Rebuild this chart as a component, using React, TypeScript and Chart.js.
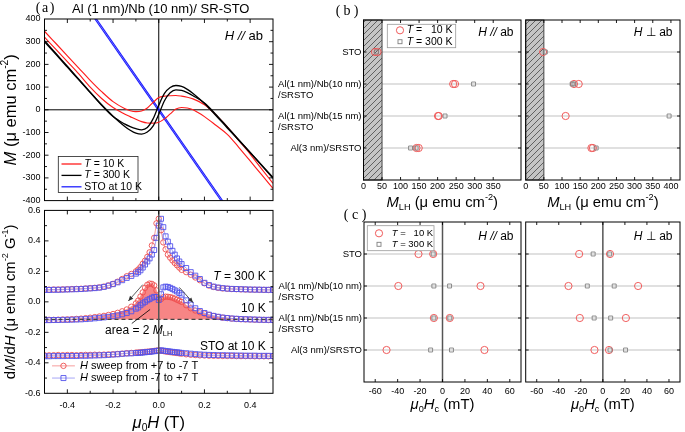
import React, { useEffect, useRef } from 'react';
import { Chart, registerables } from 'chart.js';

Chart.register(...registerables);

const SANS = '"Liberation Sans", Arial, Helvetica, sans-serif';
const SERIF = '"Liberation Serif", "Times New Roman", serif';

// ================= (a) upper : M vs mu0H =================
const hLoop = [-0.5, -0.45, -0.4, -0.35, -0.3, -0.25, -0.2, -0.15, -0.125, -0.1, -0.075, -0.05, -0.025, 0, 0.025, 0.05, 0.075, 0.1, 0.125, 0.15, 0.2, 0.25, 0.3, 0.35, 0.4, 0.45, 0.5];
const m10KDown = [346, 292, 238, 184, 130, 80, 36, 6, -4, -8, -5, 8, 32, 54, 60, 62, 63, 60, 55, 48, 22, -22, -75, -135, -195, -260, -324];
const m10KUp = [320, 266, 212, 158, 100, 50, 10, -18, -30, -42, -52, -58, -59, -55, -40, -18, 3, 10, 8, 0, -30, -68, -108, -165, -225, -286, -346];
const m300KDown = [305, 248, 192, 135, 78, 20, -30, -62, -74, -83, -88, -78, -40, 20, 72, 98, 107, 103, 90, 72, 28, -25, -80, -134, -188, -243, -298];
const m300KUp = [300, 244, 188, 132, 76, 22, -28, -72, -90, -103, -107, -98, -72, -20, 40, 75, 88, 86, 76, 62, 30, -20, -76, -132, -188, -245, -302];
const hSTO = [-0.3, 0.3];
const mSTOa = [440, -430];
const mSTOb = [430, -440];
const mTicks = [-400, -300, -200, -100, 0, 100, 200, 300, 400];
const mMinor = [-350, -250, -150, -50, 50, 150, 250, 350];
const hTicks = [-0.4, -0.2, 0, 0.2, 0.4];
const hMinor = [-0.3, -0.1, 0.1, 0.3];

// ================= (a) lower : dM/dH =================
const hSweep = [-0.5, -0.48, -0.46, -0.44, -0.42, -0.4, -0.38, -0.36, -0.34, -0.32, -0.3, -0.28, -0.26, -0.24, -0.22, -0.2, -0.18, -0.16, -0.14, -0.12, -0.1,
  -0.09, -0.08, -0.07, -0.06, -0.05, -0.04, -0.03, -0.02, -0.01, 0, 0.01, 0.02, 0.03, 0.04, 0.05, 0.06, 0.07, 0.08, 0.09,
  0.1, 0.12, 0.14, 0.16, 0.18, 0.2, 0.22, 0.24, 0.26, 0.28, 0.3, 0.32, 0.34, 0.36, 0.38, 0.4, 0.42, 0.44, 0.46, 0.48, 0.5];
const d300Up = [0.078, 0.078, 0.079, 0.079, 0.080, 0.081, 0.082, 0.083, 0.084, 0.086, 0.088, 0.090, 0.093, 0.098, 0.106, 0.116, 0.128, 0.142, 0.157, 0.170, 0.185,
  0.195, 0.207, 0.225, 0.245, 0.265, 0.285, 0.310, 0.340, 0.420, 0.500, 0.545, 0.490, 0.430, 0.395, 0.365, 0.335, 0.310, 0.285, 0.265,
  0.248, 0.222, 0.195, 0.172, 0.150, 0.125, 0.110, 0.100, 0.094, 0.090, 0.087, 0.085, 0.084, 0.083, 0.082, 0.081, 0.080, 0.080, 0.079, 0.079, 0.078];
const d300Down = [0.080, 0.080, 0.081, 0.081, 0.082, 0.083, 0.084, 0.085, 0.086, 0.088, 0.090, 0.092, 0.095, 0.100, 0.108, 0.118, 0.132, 0.150, 0.168, 0.183, 0.200,
  0.212, 0.228, 0.250, 0.270, 0.295, 0.325, 0.370, 0.420, 0.515, 0.545, 0.470, 0.390, 0.345, 0.310, 0.290, 0.272, 0.255, 0.240, 0.225,
  0.210, 0.195, 0.178, 0.160, 0.142, 0.122, 0.107, 0.098, 0.092, 0.088, 0.086, 0.084, 0.083, 0.082, 0.081, 0.080, 0.080, 0.079, 0.079, 0.078, 0.078];
const d10Up = [-0.120, -0.120, -0.119, -0.119, -0.118, -0.118, -0.117, -0.116, -0.115, -0.113, -0.111, -0.108, -0.105, -0.102, -0.098, -0.094, -0.089, -0.082, -0.073, -0.062, -0.045,
  -0.037, -0.022, -0.010, 0.000, 0.010, 0.018, 0.027, 0.033, 0.032, 0.012, 0.050, 0.095, 0.100, 0.098, 0.092, 0.085, 0.076, 0.068, 0.058,
  0.047, 0.010, -0.018, -0.042, -0.060, -0.073, -0.084, -0.092, -0.098, -0.103, -0.106, -0.109, -0.111, -0.113, -0.114, -0.115, -0.116, -0.117, -0.118, -0.118, -0.119];
const d10Down = [-0.119, -0.118, -0.118, -0.117, -0.116, -0.115, -0.114, -0.112, -0.110, -0.107, -0.104, -0.100, -0.096, -0.092, -0.086, -0.080, -0.072, -0.062, -0.050, -0.032, -0.010,
  0.008, 0.035, 0.062, 0.092, 0.112, 0.120, 0.118, 0.108, 0.075, 0.022, 0.018, 0.030, 0.034, 0.033, 0.031, 0.027, 0.021, 0.014, 0.007,
  0.000, -0.022, -0.042, -0.057, -0.068, -0.077, -0.086, -0.093, -0.099, -0.104, -0.107, -0.110, -0.112, -0.114, -0.115, -0.116, -0.117, -0.118, -0.118, -0.119, -0.120];
const dSTODown = [-0.350, -0.351, -0.350, -0.349, -0.350, -0.349, -0.349, -0.350, -0.349, -0.348, -0.348, -0.347, -0.347, -0.346, -0.345, -0.344, -0.342, -0.340, -0.337, -0.335, -0.333,
  -0.332, -0.331, -0.330, -0.328, -0.327, -0.326, -0.324, -0.322, -0.320, -0.318, -0.321, -0.323, -0.326, -0.328, -0.330, -0.332, -0.334, -0.336, -0.338,
  -0.340, -0.344, -0.347, -0.349, -0.351, -0.352, -0.353, -0.354, -0.354, -0.355, -0.355, -0.355, -0.356, -0.356, -0.356, -0.356, -0.357, -0.357, -0.357, -0.357, -0.357];
const dSTOUp = [-0.357, -0.357, -0.356, -0.356, -0.356, -0.355, -0.355, -0.355, -0.354, -0.354, -0.353, -0.352, -0.351, -0.350, -0.348, -0.346, -0.344, -0.341, -0.339, -0.338, -0.336,
  -0.335, -0.334, -0.332, -0.331, -0.329, -0.328, -0.326, -0.324, -0.322, -0.320, -0.318, -0.320, -0.322, -0.324, -0.326, -0.328, -0.330, -0.331, -0.333,
  -0.335, -0.337, -0.340, -0.343, -0.345, -0.347, -0.348, -0.349, -0.350, -0.350, -0.351, -0.351, -0.352, -0.352, -0.353, -0.353, -0.353, -0.354, -0.354, -0.354, -0.355];
const dBaseline = -0.115;
const dTicks = [-0.6, -0.4, -0.2, 0, 0.2, 0.4, 0.6];
const dMinor = [-0.5, -0.3, -0.1, 0.1, 0.3, 0.5];

// ================= (b),(c) : samples =================
const sampleLabels = [['STO'], ['Al(1 nm)/Nb(10 nm)', '/SRSTO'], ['Al(1 nm)/Nb(15 nm)', '/SRSTO'], ['Al(3 nm)/SRSTO']];
const mlhPar10K = [[31, 38], [242, 247], [201, 203], [143, 149]];
const mlhPar300K = [[35], [297], [220], [127, 142]];
const mlhPerp10K = [[48], [133, 146], [110], [181, 185]];
const mlhPerp300K = [[54], [128, 133], [395], [194]];
const hcPar10K = [[-21.4, -8.3], [-39.4, 33.9], [-7.7, 6.5], [-49.9, 37.4]];
const hcPar300K = [[-8.3], [-7.7, 6.3], [-7.7, 6.5], [-10.6, 8.0]];
const hcPerp10K = [[-21.5, 6.5], [-31.2, 32.0], [-20.9, 20.9], [-7.6, 5.6]];
const hcPerp300K = [[-8.8, 6.2], [-14.1, 10.3], [-7.9, 7.1], [6.5, 20.6]];
const mlhTicksPar = [0, 50, 100, 150, 200, 250, 300, 350];
const mlhTicksPerp = [0, 50, 100, 150, 200, 250, 300, 350, 400];
const hcTicks = [-60, -40, -20, 0, 20, 40, 60];
const mlhNoise = 50;

// ================= styles =================
const RED = '#ff1c1c';
const BLACK = '#000';
const BLUE = '#2020ff';
const C_MK = 'rgb(238,78,78)';
const C_LN = 'rgba(244,140,140,0.95)';
const S_MK = 'rgb(84,84,235)';
const S_LN = 'rgba(150,150,245,0.95)';
const FILL = 'rgba(246,112,112,0.85)';
const CAT_RED = 'rgb(240,92,92)';
const CAT_GRAY = '#808080';

type Seg = { t: string; i?: boolean; s?: number };

function rich(ctx: any, segs: Seg[], x: number, y: number, size: number, align = 'left', rot = 0, color = '#000') {
  ctx.save();
  ctx.translate(x, y);
  if (rot) ctx.rotate(rot);
  ctx.fillStyle = color;
  ctx.textBaseline = 'middle';
  ctx.textAlign = 'left';
  const fontOf = (g: Seg) => `${g.i ? 'italic ' : ''}${g.s ? (size * 0.62).toFixed(2) : size}px ${SANS}`;
  const widths = segs.map((g) => { ctx.font = fontOf(g); return ctx.measureText(g.t).width; });
  const total = widths.reduce((p, c) => p + c, 0);
  let cx = align === 'center' ? -total / 2 : align === 'right' ? -total : 0;
  segs.forEach((g, k) => {
    ctx.font = fontOf(g);
    const dy = g.s === 1 ? -size * 0.36 : g.s === -1 ? size * 0.3 : 0;
    ctx.fillText(g.t, cx, dy);
    cx += widths[k];
  });
  ctx.restore();
  return total;
}

function panelLetter(ctx: any, l: string, x: number, y: number, gap: number) {
  ctx.save();
  ctx.fillStyle = '#000';
  ctx.font = `14px ${SERIF}`;
  ctx.textBaseline = 'middle';
  ctx.textAlign = 'center';
  ctx.fillText('(', x, y);
  ctx.fillText(l, x + gap, y);
  ctx.fillText(')', x + 2 * gap, y);
  ctx.restore();
}

function xy(xs: number[], ys: number[]) {
  return xs.map((x, i) => ({ x, y: ys[i] }));
}
function cats(vals: number[][]) {
  return vals.flatMap((arr, i) => arr.map((v) => ({ x: v, y: i + 1 })));
}

function inwardTicks(chart: any, xMaj: number[], xMin: number[], yMaj: number[], yMin: number[], majLen = 4, minLen = 2.5) {
  const { ctx, chartArea: a } = chart;
  const sx = chart.scales.x, sy = chart.scales.y;
  ctx.save();
  ctx.strokeStyle = '#000';
  ctx.lineWidth = 0.9;
  ctx.beginPath();
  const vx = (vals: number[], len: number) => vals.forEach((v) => {
    const p = sx.getPixelForValue(v);
    if (p < a.left + 0.5 || p > a.right - 0.5) return;
    ctx.moveTo(p, a.bottom); ctx.lineTo(p, a.bottom - len);
    ctx.moveTo(p, a.top); ctx.lineTo(p, a.top + len);
  });
  const vy = (vals: number[], len: number) => vals.forEach((v) => {
    const p = sy.getPixelForValue(v);
    if (p < a.top + 0.5 || p > a.bottom - 0.5) return;
    ctx.moveTo(a.left, p); ctx.lineTo(a.left + len, p);
    ctx.moveTo(a.right, p); ctx.lineTo(a.right - len, p);
  });
  vx(xMaj, majLen); vx(xMin, minLen); vy(yMaj, majLen); vy(yMin, minLen);
  ctx.stroke();
  ctx.lineWidth = 1;
  ctx.strokeRect(a.left, a.top, a.right - a.left, a.bottom - a.top);
  ctx.restore();
}

function arrow(ctx: any, x1: number, y1: number, x2: number, y2: number, color: string, head = true) {
  const ang = Math.atan2(y2 - y1, x2 - x1);
  ctx.save();
  ctx.strokeStyle = color; ctx.fillStyle = color; ctx.lineWidth = 0.8;
  ctx.beginPath(); ctx.moveTo(x1, y1); ctx.lineTo(x2, y2); ctx.stroke();
  if (head) {
    const hl = 5, hw = 2.2;
    ctx.beginPath();
    ctx.moveTo(x2, y2);
    ctx.lineTo(x2 - hl * Math.cos(ang) + hw * Math.sin(ang), y2 - hl * Math.sin(ang) - hw * Math.cos(ang));
    ctx.lineTo(x2 - hl * Math.cos(ang) - hw * Math.sin(ang), y2 - hl * Math.sin(ang) + hw * Math.cos(ang));
    ctx.closePath(); ctx.fill();
  }
  ctx.restore();
}

const baseOpts = {
  animation: false,
  responsive: false,
  events: [],
  plugins: { legend: { display: false }, tooltip: { enabled: false } },
};

const tickFont = { family: SANS, size: 9 };

function curve(xs: number[], ys: number[], color: string, order: number, width = 1.15) {
  return { data: xy(xs, ys), borderColor: color, borderWidth: width, pointRadius: 0, fill: false, cubicInterpolationMode: 'monotone', order };
}

function cfgTop() {
  return {
    type: 'line',
    data: {
      datasets: [
        { data: [{ x: 0, y: -400 }, { x: 0, y: 400 }], borderColor: '#000', borderWidth: 1, pointRadius: 0, order: 10 },
        { data: [{ x: -0.5, y: 0 }, { x: 0.5, y: 0 }], borderColor: '#000', borderWidth: 1, pointRadius: 0, order: 10 },
        curve(hSTO, mSTOa, BLUE, 5), curve(hSTO, mSTOb, BLUE, 5),
        curve(hLoop, m10KDown, RED, 4), curve(hLoop, m10KUp, RED, 4),
        curve(hLoop, m300KDown, BLACK, 3, 1.3), curve(hLoop, m300KUp, BLACK, 3, 1.3),
      ],
    },
    options: {
      ...baseOpts,
      layout: { padding: { left: 0, right: 7, top: 19, bottom: 7.7 } },
      scales: {
        x: { type: 'linear', min: -0.5, max: 0.5, display: false },
        y: {
          type: 'linear', min: -400, max: 400,
          grid: { display: false, drawTicks: false }, border: { display: false },
          afterFit: (s: any) => { s.width = 44.5; },
          afterBuildTicks: (s: any) => { s.ticks = mTicks.map((v) => ({ value: v })); },
          ticks: { padding: 4, color: '#000', font: tickFont },
        },
      },
    },
    plugins: [{
      id: 'decoTop',
      afterDraw(chart: any) {
        const { ctx, chartArea: a } = chart;
        inwardTicks(chart, hTicks, hMinor, mTicks, mMinor);
        const bx = a.left + 13.8, by = a.top + 137.5, bw = 79.7, bh = 35.9;
        ctx.save();
        ctx.fillStyle = '#fff'; ctx.fillRect(bx, by, bw, bh);
        ctx.strokeStyle = '#222'; ctx.lineWidth = 0.8; ctx.strokeRect(bx, by, bw, bh);
        const rows: [string, Seg[]][] = [
          [RED, [{ t: 'T', i: true }, { t: ' = 10 K' }]],
          [BLACK, [{ t: 'T', i: true }, { t: ' = 300 K' }]],
          [BLUE, [{ t: 'STO at 10 K' }]],
        ];
        rows.forEach(([c, segs], k) => {
          const yy = by + 7.5 + k * 11.4;
          ctx.strokeStyle = c; ctx.lineWidth = 1.3;
          ctx.beginPath(); ctx.moveTo(bx + 3.2, yy); ctx.lineTo(bx + 23.2, yy); ctx.stroke();
          rich(ctx, segs, bx + 26, yy, 10.5);
        });
        ctx.restore();
        rich(ctx, [{ t: 'H //', i: true }, { t: ' ab' }], a.right - 10, a.top + 17, 13, 'right');
        panelLetter(ctx, 'a', 38, 8, 7);
        rich(ctx, [{ t: 'Al (1 nm)/Nb (10 nm)/ SR-STO' }], 72, 9, 13);
        rich(ctx, [{ t: 'M', i: true }, { t: ' (\u03bc emu cm' }, { t: '-2', s: 1 }, { t: ')' }], 11, (a.top + a.bottom) / 2, 16.5, 'center', -Math.PI / 2);
      },
    }],
  };
}

function sweepSet(vals: number[], circle: boolean, order: number, fill?: boolean) {
  return {
    data: xy(hSweep, vals),
    borderColor: circle ? C_LN : S_LN,
    borderWidth: 0.9,
    pointStyle: circle ? 'circle' : 'rect',
    pointRadius: circle ? 2.7 : 3.5,
    pointBorderColor: circle ? C_MK : S_MK,
    pointBackgroundColor: 'rgba(255,255,255,0)',
    pointBorderWidth: 0.9,
    fill: fill ? { value: dBaseline } : false,
    backgroundColor: fill ? FILL : 'rgba(0,0,0,0)',
    order,
  };
}

function cfgBottom() {
  return {
    type: 'line',
    data: {
      datasets: [
        { data: [{ x: 0, y: -0.6 }, { x: 0, y: 0.6 }], borderColor: '#555', borderWidth: 1.5, pointRadius: 0, order: 0 },
        { data: [{ x: -0.5, y: dBaseline }, { x: 0.5, y: dBaseline }], borderColor: '#444', borderWidth: 1.3, borderDash: [4, 3], pointRadius: 0, order: 0 },
        sweepSet(d300Down, true, 4), sweepSet(d300Up, false, 3),
        sweepSet(d10Down, true, 4, true), sweepSet(d10Up, false, 3),
        sweepSet(dSTODown, true, 4), sweepSet(dSTOUp, false, 3),
      ],
    },
    options: {
      ...baseOpts,
      layout: { padding: { left: 0, right: 7, top: 10.4, bottom: 0 } },
      scales: {
        x: {
          type: 'linear', min: -0.5, max: 0.5,
          grid: { display: false, drawTicks: false }, border: { display: false },
          afterFit: (s: any) => { s.height = 38.7; },
          afterBuildTicks: (s: any) => { s.ticks = hTicks.map((v) => ({ value: v })); },
          ticks: { padding: 7, color: '#000', font: tickFont, maxRotation: 0, autoSkip: false, callback: (v: any) => Number(v).toFixed(1) },
        },
        y: {
          type: 'linear', min: -0.6, max: 0.6,
          grid: { display: false, drawTicks: false }, border: { display: false },
          afterFit: (s: any) => { s.width = 44.5; },
          afterBuildTicks: (s: any) => { s.ticks = dTicks.map((v) => ({ value: v })); },
          ticks: { padding: 4, color: '#000', font: tickFont, callback: (v: any) => Number(v).toFixed(1) },
        },
      },
    },
    plugins: [{
      id: 'decoBottom',
      afterDraw(chart: any) {
        const { ctx, chartArea: a } = chart;
        const sx = chart.scales.x, sy = chart.scales.y;
        const X = (v: number) => sx.getPixelForValue(v);
        const Y = (v: number) => sy.getPixelForValue(v);
        inwardTicks(chart, hTicks, hMinor, dTicks, dMinor);
        arrow(ctx, X(-0.07), Y(0.113), X(-0.133), Y(0.006), '#333');
        arrow(ctx, X(0.09), Y(0.095), X(0.15), Y(-0.005), '#333');
        arrow(ctx, X(-0.118), Y(-0.142), X(-0.038), Y(-0.05), '#000', false);
        rich(ctx, [{ t: 'T', i: true }, { t: ' = 300 K' }], X(0.468), Y(0.165), 12, 'right');
        rich(ctx, [{ t: '10 K' }], X(0.468), Y(-0.044), 12, 'right');
        rich(ctx, [{ t: 'area = 2 ' }, { t: 'M', i: true }, { t: 'LH', s: -1 }], X(-0.235), Y(-0.188), 12, 'left');
        rich(ctx, [{ t: 'STO at 10 K' }], X(0.468), Y(-0.292), 12, 'right');
        const rows: [boolean, Seg[]][] = [
          [true, [{ t: 'H', i: true }, { t: ' sweep from +7 to -7 T' }]],
          [false, [{ t: 'H', i: true }, { t: ' sweep from -7 to +7 T' }]],
        ];
        rows.forEach(([circle, segs], k) => {
          const yy = Y(k === 0 ? -0.42 : -0.5);
          ctx.save();
          ctx.strokeStyle = circle ? C_LN : S_LN; ctx.lineWidth = 0.9;
          ctx.beginPath(); ctx.moveTo(X(-0.467), yy); ctx.lineTo(X(-0.367), yy); ctx.stroke();
          ctx.strokeStyle = circle ? C_MK : S_MK; ctx.lineWidth = 0.9;
          ctx.beginPath();
          if (circle) ctx.arc(X(-0.417), yy, 2.7, 0, Math.PI * 2);
          else ctx.rect(X(-0.417) - 2.5, yy - 2.5, 5, 5);
          ctx.stroke();
          ctx.restore();
          rich(ctx, segs, X(-0.345), yy, 11);
        });
        rich(ctx, [{ t: 'd' }, { t: 'M', i: true }, { t: '/d' }, { t: 'H', i: true }, { t: ' (\u03bc emu cm' }, { t: '-2', s: 1 }, { t: ' G' }, { t: '-1', s: 1 }, { t: ')' }], 11, (a.top + a.bottom) / 2, 14.8, 'center', -Math.PI / 2);
        rich(ctx, [{ t: '\u03bc', i: true }, { t: '0', s: -1 }, { t: 'H', i: true }, { t: ' (T)' }], (a.left + a.right) / 2, a.bottom + 30, 16.5, 'center');
      },
    }],
  };
}

function makeHatch(ctx: any) {
  const c = document.createElement('canvas');
  c.width = 6; c.height = 6;
  const g = c.getContext('2d')!;
  g.fillStyle = '#c4c4c4';
  g.fillRect(0, 0, 6, 6);
  g.strokeStyle = '#555';
  g.lineWidth = 0.9;
  g.beginPath();
  g.moveTo(-1, 7); g.lineTo(7, -1);
  g.moveTo(-1, 1); g.lineTo(1, -1);
  g.moveTo(5, 7); g.lineTo(7, 5);
  g.stroke();
  return ctx.createPattern(c, 'repeat');
}

type CatOpts = {
  xMin: number; xMax: number; ticks: number[];
  s10: number[][]; s300: number[][];
  pad: { left: number; right: number; top: number }; axisH: number; tickPad: number;
  hatchTo?: number; zero?: boolean; labels?: boolean;
  legend?: { dx: number; dy: number; w: number; h: number; mx: number; tx: number; r1: number; r2: number; fs: number };
  perp: boolean; title: Seg[]; fieldDy: number;
  letter?: { x: number; y: number; l: string };
};

function cfgCat(o: CatOpts) {
  return {
    type: 'line',
    data: {
      datasets: [
        { data: cats(o.s300), showLine: false, pointStyle: 'rect', pointRadius: 2.8, pointBorderColor: CAT_GRAY, pointBackgroundColor: 'rgba(255,255,255,0)', pointBorderWidth: 0.9, order: 0 },
        { data: cats(o.s10), showLine: false, pointStyle: 'circle', pointRadius: 3.6, pointBorderColor: CAT_RED, pointBackgroundColor: 'rgba(255,255,255,0)', pointBorderWidth: 1, order: 1 },
      ],
    },
    options: {
      ...baseOpts,
      layout: { padding: { left: o.pad.left, right: o.pad.right, top: o.pad.top, bottom: 0 } },
      scales: {
        x: {
          type: 'linear', min: o.xMin, max: o.xMax,
          grid: { display: false, drawTicks: false }, border: { display: false },
          afterFit: (s: any) => { s.height = o.axisH; },
          afterBuildTicks: (s: any) => { s.ticks = o.ticks.map((v) => ({ value: v })); },
          ticks: { padding: o.tickPad, color: '#000', font: tickFont, maxRotation: 0, autoSkip: false },
        },
        y: { type: 'linear', min: 0, max: 5, reverse: true, display: false },
      },
    },
    plugins: [{
      id: 'decoCat',
      beforeDatasetsDraw(chart: any) {
        const { ctx, chartArea: a } = chart;
        const sx = chart.scales.x, sy = chart.scales.y;
        ctx.save();
        ctx.strokeStyle = '#d6d6d6'; ctx.lineWidth = 1.5;
        sampleLabels.forEach((_, i) => {
          const p = sy.getPixelForValue(i + 1);
          ctx.beginPath(); ctx.moveTo(a.left, p); ctx.lineTo(a.right, p); ctx.stroke();
        });
        if (o.hatchTo !== undefined) {
          const x0 = sx.getPixelForValue(o.xMin), x1 = sx.getPixelForValue(o.hatchTo);
          ctx.fillStyle = makeHatch(ctx);
          ctx.fillRect(x0, a.top, x1 - x0, a.bottom - a.top);
          ctx.strokeStyle = '#444'; ctx.lineWidth = 1;
          ctx.strokeRect(x0, a.top, x1 - x0, a.bottom - a.top);
        }
        if (o.zero) {
          const p = sx.getPixelForValue(0);
          ctx.strokeStyle = '#555'; ctx.lineWidth = 1.5;
          ctx.beginPath(); ctx.moveTo(p, a.top); ctx.lineTo(p, a.bottom); ctx.stroke();
        }
        ctx.restore();
      },
      afterDraw(chart: any) {
        const { ctx, chartArea: a } = chart;
        const sy = chart.scales.y;
        inwardTicks(chart, o.ticks, [], [1, 2, 3, 4], [], 3, 2);
        if (o.labels) {
          ctx.save();
          ctx.fillStyle = '#000';
          ctx.font = `9.5px ${SANS}`;
          ctx.textBaseline = 'middle';
          sampleLabels.forEach((lines, i) => {
            const p = sy.getPixelForValue(i + 1);
            const w0 = ctx.measureText(lines[0]).width;
            const xr = a.left - 2;
            ctx.textAlign = 'left';
            ctx.fillText(lines[0], xr - w0, p);
            if (lines[1]) ctx.fillText(lines[1], xr - w0, p + 11);
          });
          ctx.restore();
        }
        if (o.legend) {
          const L = o.legend;
          const bx = a.left + L.dx, by = a.top + L.dy;
          ctx.save();
          ctx.fillStyle = '#fff'; ctx.fillRect(bx, by, L.w, L.h);
          ctx.strokeStyle = '#999'; ctx.lineWidth = 0.8; ctx.strokeRect(bx, by, L.w, L.h);
          ctx.strokeStyle = CAT_RED; ctx.lineWidth = 1;
          ctx.beginPath(); ctx.arc(a.left + L.mx, a.top + L.r1, 3.6, 0, Math.PI * 2); ctx.stroke();
          ctx.strokeStyle = CAT_GRAY; ctx.lineWidth = 0.9;
          ctx.strokeRect(a.left + L.mx - 2, a.top + L.r2 - 2, 4, 4);
          ctx.restore();
          rich(ctx, [{ t: 'T', i: true }, { t: ' =   10 K' }], a.left + L.tx, a.top + L.r1, L.fs);
          rich(ctx, [{ t: 'T', i: true }, { t: ' = 300 K' }], a.left + L.tx, a.top + L.r2, L.fs);
        }
        const field: Seg[] = o.perp ? [{ t: 'H', i: true }, { t: ' \u22a5 ab' }] : [{ t: 'H //', i: true }, { t: ' ab' }];
        rich(ctx, field, a.right - 7.5, a.top + o.fieldDy, 12, 'right');
        rich(ctx, o.title, (a.left + a.right) / 2, a.bottom + 23, 14.8, 'center');
        if (o.letter) panelLetter(ctx, o.letter.l, o.letter.x, o.letter.y, 9);
      },
    }],
  };
}

const mlhTitle: Seg[] = [{ t: 'M', i: true }, { t: 'LH', s: -1 }, { t: ' (\u03bc emu cm' }, { t: '-2', s: 1 }, { t: ')' }];
const hcTitle: Seg[] = [{ t: '\u03bc', i: true }, { t: '0', s: -1 }, { t: 'H', i: true }, { t: 'c', s: -1 }, { t: ' (mT)' }];

const cfgBPar = () => cfgCat({
  xMin: 0, xMax: 425, ticks: mlhTicksPar, s10: mlhPar10K, s300: mlhPar300K,
  pad: { left: 91.5, right: 1.7, top: 20 }, axisH: 32, tickPad: 1.5,
  hatchTo: mlhNoise, labels: true,
  legend: { dx: 23.8, dy: 4.3, w: 68.4, h: 23.4, mx: 36.5, tx: 43.2, r1: 10.3, r2: 21.7, fs: 10.5 },
  perp: false, title: mlhTitle, fieldDy: 13, letter: { l: 'b', x: 66, y: 11 },
});
const cfgBPerp = () => cfgCat({
  xMin: 0, xMax: 425, ticks: mlhTicksPerp, s10: mlhPerp10K, s300: mlhPerp300K,
  pad: { left: 5.7, right: 0.7, top: 20 }, axisH: 32, tickPad: 1.5,
  hatchTo: mlhNoise, perp: true, title: mlhTitle, fieldDy: 13,
});
const cfgCPar = () => cfgCat({
  xMin: -70, xMax: 70, ticks: hcTicks, s10: hcPar10K, s300: hcPar300K,
  pad: { left: 92, right: 1.7, top: 17 }, axisH: 50, tickPad: 4.3,
  zero: true, labels: true,
  legend: { dx: 3.3, dy: 3.7, w: 66.7, h: 25, mx: 15, tx: 27.7, r1: 11.3, r2: 22.3, fs: 9.5 },
  perp: false, title: hcTitle, fieldDy: 15, letter: { l: 'c', x: 74, y: 10 },
});
const cfgCPerp = () => cfgCat({
  xMin: -70, xMax: 70, ticks: hcTicks, s10: hcPerp10K, s300: hcPerp300K,
  pad: { left: 5.7, right: 0.7, top: 17 }, axisH: 50, tickPad: 4.3,
  zero: true, perp: true, title: hcTitle, fieldDy: 15,
});

function ChartCanvas({ left, top, width, height, make }: any) {
  const ref = useRef<HTMLCanvasElement>(null);
  useEffect(() => {
    const chart = new Chart(ref.current as HTMLCanvasElement, make());
    return () => chart.destroy();
  }, []);
  return <canvas ref={ref} width={width} height={height} style={{ position: 'absolute', left, top, width, height }} />;
}

export default function App() {
  return (
    <div style={{ position: 'absolute', left: 0, top: 0, width: 685, height: 432, background: '#fff', overflow: 'hidden' }}>
      <ChartCanvas left={0} top={0} width={280} height={210} make={cfgTop} />
      <ChartCanvas left={0} top={200} width={280} height={232} make={cfgBottom} />
      <ChartCanvas left={272} top={0} width={254} height={212} make={cfgBPar} />
      <ChartCanvas left={520} top={0} width={165} height={212} make={cfgBPerp} />
      <ChartCanvas left={272} top={205} width={254} height={227} make={cfgCPar} />
      <ChartCanvas left={520} top={205} width={165} height={227} make={cfgCPerp} />
    </div>
  );
}
